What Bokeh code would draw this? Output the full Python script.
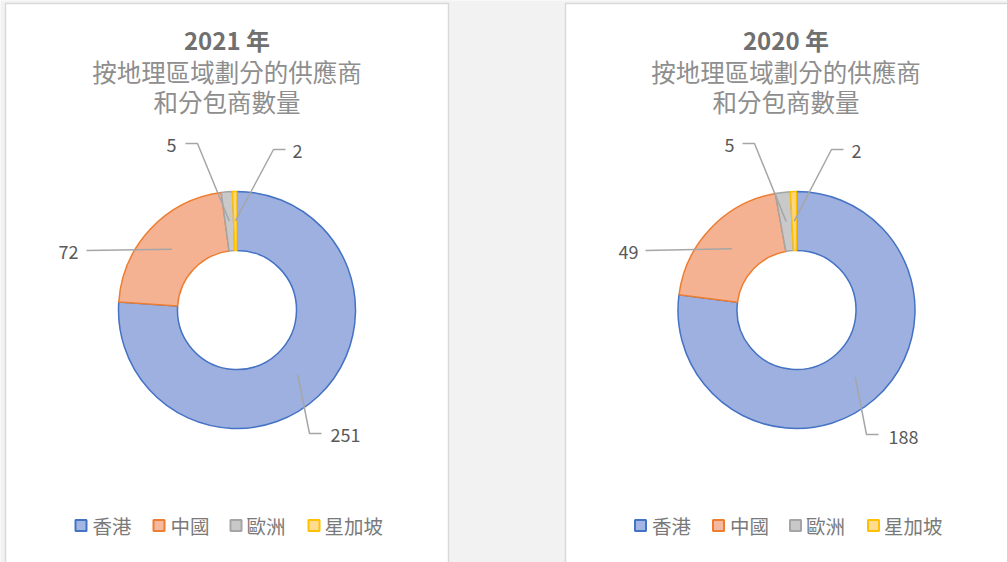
import math
from bokeh.plotting import figure
from bokeh.models import Range1d
from bokeh.core.properties import value
from bokeh.embed import file_html
from bokeh.resources import INLINE

# ---- data ----
regions = ["香港", "中國", "歐洲", "星加坡"]
values_2021 = [251, 72, 5, 2]
values_2020 = [188, 49, 5, 2]
years = ["2021 年", "2020 年"]
subtitle_lines = ["按地理區域劃分的供應商", "和分包商數量"]

# ---- styles ----
fill_colors = ["#9DB0DF", "#F5B293", "#C9C9C9", "#FFD680"]
edge_colors = ["#4472C4", "#ED7D31", "#A5A5A5", "#FFC000"]
legend_fill = ["#A3B5E2", "#F6B9A0", "#C9C9C9", "#FFDC90"]
FONT = "Noto Sans CJK TC"
W, H = 1007, 562

def sy(y):
    return H - y

p = figure(width=W, height=H, output_backend="svg", toolbar_location=None,
           x_range=Range1d(0, W), y_range=Range1d(0, H), min_border=0)
p.axis.visible = False
p.grid.visible = False
p.outline_line_color = None
p.background_fill_color = "#F2F2F2"
p.border_fill_color = "#F2F2F2"

# panel layout
panels = [dict(x0=5, cx=236.5, tx=226.5, lx=0),
          dict(x0=565, cx=796.0, tx=785.5, lx=559.5)]
PANEL_W = 443
CY = 309.5
R_OUT, R_IN, R_LBL = 118.5, 59.5, 89

# leader-line layout per panel: (text x, text y, align, elbow points)
label_layout = [
    [  # 2021
        dict(tx=330, ty=434, align="left", pts=[(321, 433), (309, 433)]),
        dict(tx=78, ty=251, align="right", pts=[(86, 250)]),
        dict(tx=176, ty=144, align="right", pts=[(185, 143), (197, 143)]),
        dict(tx=292, ty=150, align="left", pts=[(285, 149), (273, 149)]),
    ],
    [  # 2020
        dict(tx=888, ty=436, align="left", pts=[(878, 434), (866, 434)]),
        dict(tx=638, ty=251, align="right", pts=[(645, 250)]),
        dict(tx=734, ty=144, align="right", pts=[(742, 143), (754, 143)]),
        dict(tx=851, ty=150, align="left", pts=[(843, 149), (831, 149)]),
    ],
]

legend_sq_x = [80.5, 158.5, 235.5, 313.5]
legend_tx_x = [92, 170, 246, 324]
LEG_Y = 525

for pi, (vals, panel) in enumerate(zip([values_2021, values_2020], panels)):
    # panel background
    p.quad(left=panel["x0"], right=panel["x0"] + PANEL_W, bottom=sy(566), top=sy(3),
           fill_color="white", line_color="#D9D9D9", line_width=1.5)
    total = sum(vals)
    cum = 0
    starts, ends, mids = [], [], []
    for v in vals:
        a0 = math.pi / 2 - 2 * math.pi * cum / total
        a1 = math.pi / 2 - 2 * math.pi * (cum + v) / total
        starts.append(a0)
        ends.append(a1)
        mids.append((a0 + a1) / 2)
        cum += v
    cx, cy = panel["cx"], sy(CY)
    p.annular_wedge(x=[cx] * len(vals), y=[cy] * len(vals), inner_radius=R_IN,
                    outer_radius=R_OUT, start_angle=starts, end_angle=ends,
                    direction="clock", fill_color=fill_colors,
                    line_color=edge_colors, line_width=1.5)
    # data labels with leader lines
    for i, v in enumerate(vals):
        lay = label_layout[pi][i]
        px = cx + R_LBL * math.cos(mids[i])
        py = cy + R_LBL * math.sin(mids[i])
        xs = [q[0] for q in lay["pts"]] + [px]
        ys = [sy(q[1]) for q in lay["pts"]] + [py]
        p.line(xs, ys, line_color="#A6A6A6", line_width=1.5)
        p.text(x=[lay["tx"]], y=[sy(lay["ty"])], text=[str(v)],
               text_align=lay["align"], text_baseline="middle",
               text_font=value(FONT), text_font_size="18px", text_color="#595959")
    # titles
    p.text(x=[panel["tx"]], y=[sy(38.5)], text=[years[pi]], text_align="center",
           text_baseline="middle", text_font=value(FONT), text_font_size="24px",
           text_font_style="bold", text_color="#707070")
    for li, line in enumerate(subtitle_lines):
        p.text(x=[panel["tx"]], y=[sy(70.5 + 30.5 * li)], text=[line], text_align="center",
               text_baseline="middle", text_font=value(FONT), text_font_size="24.5px",
               text_color="#8E8E8E")
    # legend
    for i, name in enumerate(regions):
        p.rect(x=[legend_sq_x[i] + panel["lx"]], y=[sy(LEG_Y)], width=11, height=11,
               fill_color=legend_fill[i], line_color=edge_colors[i], line_width=2)
        p.text(x=[legend_tx_x[i] + panel["lx"]], y=[sy(LEG_Y)], text=[name],
               text_align="left", text_baseline="middle", text_font=value(FONT),
               text_font_size="19.5px", text_color="#7A7A7A")

open("out.html", "w").write(file_html(p, INLINE))
